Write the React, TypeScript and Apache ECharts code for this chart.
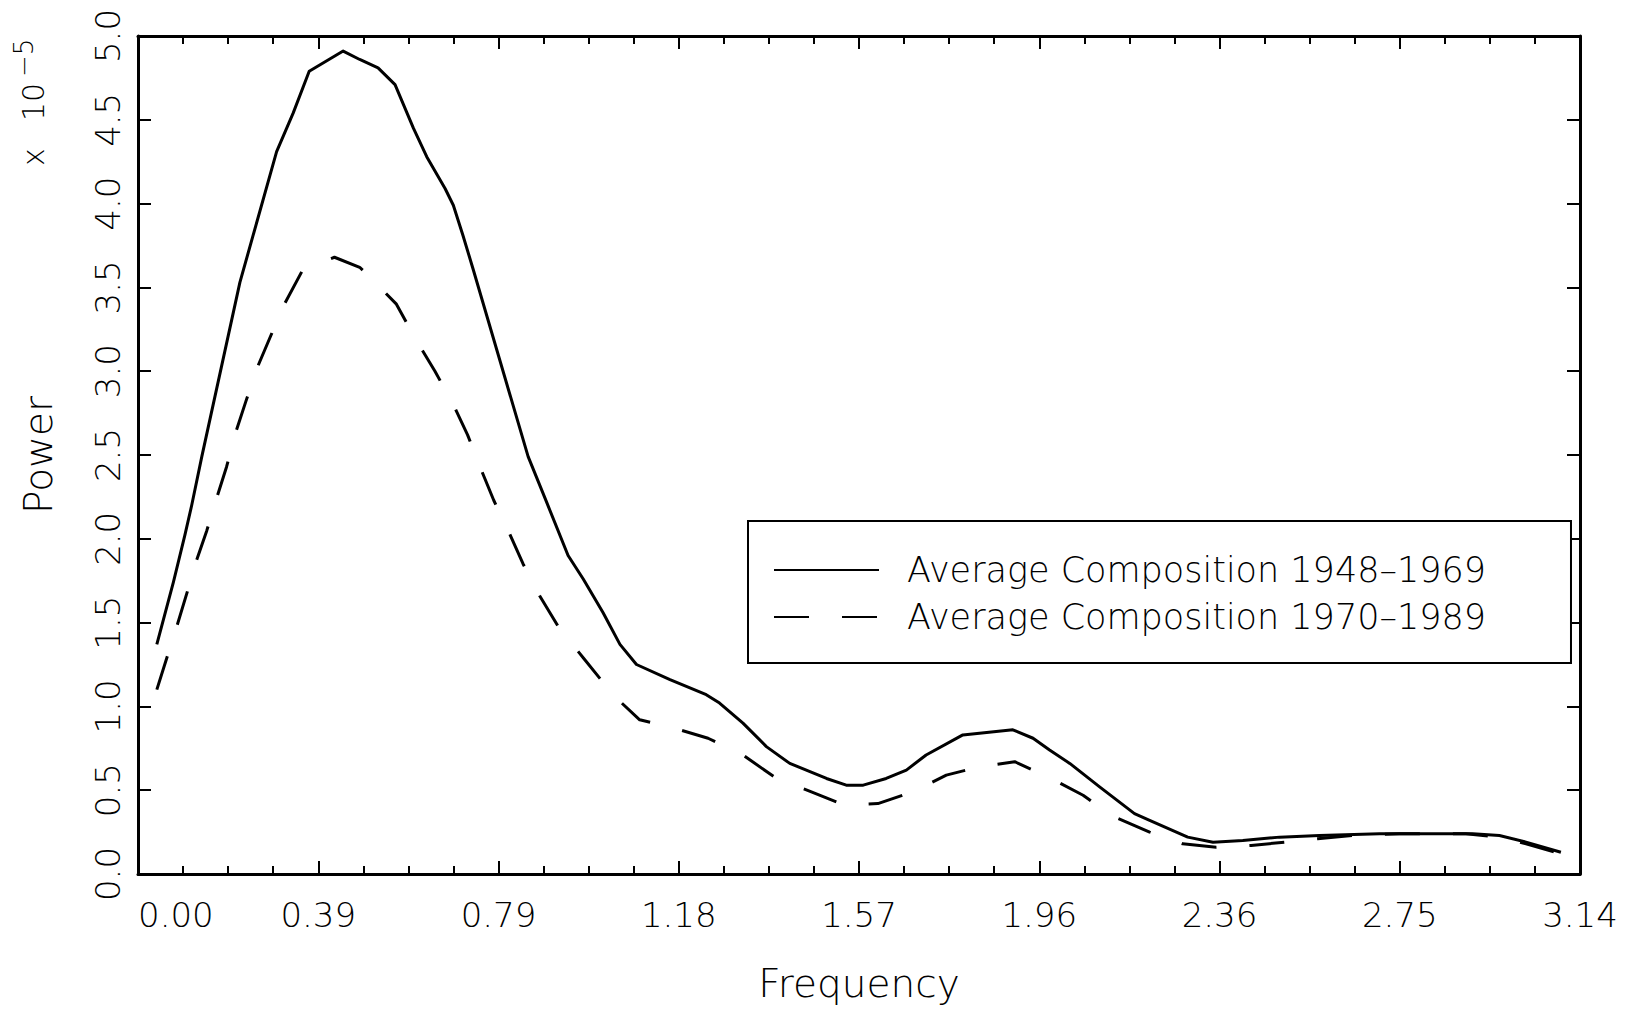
import React, { useEffect, useRef } from "react";
import * as echarts from "echarts";

// ---- data (power in units of 10^-5) ----
const FREQ_1948_1969 = [0.041, 0.077, 0.102, 0.117, 0.139, 0.222, 0.302, 0.338, 0.373, 0.447, 0.483, 0.523, 0.56, 0.6, 0.629, 0.669, 0.687, 0.708, 0.73, 0.85, 0.89, 0.937, 0.97, 1.013, 1.05, 1.086, 1.159, 1.238, 1.267, 1.318, 1.369, 1.42, 1.5, 1.543, 1.58, 1.63, 1.674, 1.717, 1.797, 1.906, 1.95, 1.986, 2.03, 2.095, 2.171, 2.204, 2.287, 2.342, 2.407, 2.487, 2.574, 2.705, 2.821, 2.908, 2.966, 3.024, 3.1];
const POWER_1948_1969 = [1.37, 1.74, 2.02, 2.2, 2.49, 3.53, 4.31, 4.54, 4.79, 4.91, 4.86, 4.81, 4.71, 4.45, 4.28, 4.09, 3.99, 3.81, 3.61, 2.49, 2.22, 1.9, 1.76, 1.56, 1.37, 1.25, 1.16, 1.07, 1.02, 0.9, 0.76, 0.66, 0.57, 0.53, 0.53, 0.57, 0.62, 0.71, 0.83, 0.86, 0.81, 0.74, 0.66, 0.52, 0.36, 0.32, 0.22, 0.19, 0.2, 0.22, 0.23, 0.24, 0.24, 0.24, 0.23, 0.19, 0.13];

const FREQ_1970_1989 = [0.041, 0.064, 0.086, 0.107, 0.126, 0.15, 0.171, 0.193, 0.211, 0.235, 0.258, 0.289, 0.319, 0.36, 0.428, 0.483, 0.502, 0.563, 0.603, 0.647, 0.687, 0.718, 0.748, 0.775, 0.808, 0.839, 0.875, 0.917, 0.973, 1.029, 1.05, 1.093, 1.169, 1.242, 1.318, 1.391, 1.467, 1.54, 1.612, 1.688, 1.761, 1.834, 1.91, 1.982, 2.059, 2.095, 2.128, 2.204, 2.276, 2.349, 2.425, 2.498, 2.57, 2.647, 2.748, 2.893, 2.966, 3.024, 3.1];
const POWER_1970_1989 = [1.1, 1.3, 1.49, 1.68, 1.86, 2.05, 2.24, 2.43, 2.62, 2.82, 3.01, 3.21, 3.4, 3.61, 3.68, 3.62, 3.57, 3.4, 3.2, 3.0, 2.8, 2.62, 2.41, 2.23, 2.04, 1.85, 1.66, 1.47, 1.28, 1.09, 1.03, 0.92, 0.87, 0.81, 0.71, 0.57, 0.49, 0.41, 0.42, 0.49, 0.59, 0.64, 0.67, 0.58, 0.47, 0.4, 0.34, 0.25, 0.18, 0.16, 0.17, 0.19, 0.21, 0.23, 0.24, 0.24, 0.22, 0.18, 0.12];

const SERIES_NAMES = ["Average Composition 1948–1969", "Average Composition 1970–1989"];

const X_MIN = 0;
const X_MAX = Math.PI;
const X_STEP = Math.PI / 8;
const Y_MIN = 0;
const Y_MAX = 5;
const Y_STEP = 0.5;

const X_TITLE = "Frequency";
const Y_TITLE = "Power";
const Y_SCALE_NOTE = "{a|x }{b|10}{s|−5}";

const FONT = "'DejaVu Sans', sans-serif";
const FW = 200;
const BLACK = "#000";

export default function App() {
  const ref = useRef<HTMLDivElement>(null);

  useEffect(() => {
    if (!ref.current) return;
    const chart = echarts.init(ref.current, null, { renderer: "svg" });

    const tickLine = { color: BLACK, width: 2 };
    const frameLine = { show: true, onZero: false, lineStyle: { color: BLACK, width: 3 } };

    const xBase = {
      type: "value" as const,
      min: X_MIN,
      max: X_MAX,
      interval: X_STEP,
      axisLine: frameLine,
      axisTick: { show: true, inside: true, length: 13, lineStyle: tickLine },
      minorTick: { show: true, splitNumber: 4, length: 8, lineStyle: tickLine },
      splitLine: { show: false },
      minorSplitLine: { show: false },
    };
    const yBase = {
      type: "value" as const,
      min: Y_MIN,
      max: Y_MAX,
      interval: Y_STEP,
      axisLine: frameLine,
      axisTick: { show: true, inside: true, length: 13, lineStyle: tickLine },
      splitLine: { show: false },
    };

    const mainNote = { fontSize: 30, fontFamily: FONT, fontWeight: FW, fill: BLACK };
    const supNote = { fontSize: 26, fontFamily: FONT, fontWeight: FW, fill: BLACK };

    chart.setOption({
      animation: false,
      backgroundColor: "#fff",
      textStyle: { fontFamily: FONT, color: BLACK },
      grid: { left: 138, right: 52, top: 36, bottom: 137, outerBoundsMode: "none", containLabel: false },
      xAxis: [
        {
          ...xBase,
          position: "bottom",
          axisLabel: {
            show: true,
            margin: 24,
            fontSize: 34,
            fontFamily: FONT,
            fontWeight: FW,
            color: BLACK,
            formatter: (v: number) => v.toFixed(2),
            alignMinLabel: "left",
          },
          name: X_TITLE,
          nameLocation: "middle",
          nameGap: 90,
          nameTextStyle: { fontSize: 39, fontFamily: FONT, fontWeight: FW, color: BLACK },
        },
        {
          ...xBase,
          position: "top",
          axisLabel: { show: false },
        },
      ],
      yAxis: [
        {
          ...yBase,
          position: "left",
          axisLabel: {
            show: true,
            rotate: 90,
            margin: 13,
            fontSize: 34,
            fontFamily: FONT,
            fontWeight: FW,
            color: BLACK,
            formatter: (v: number) => v.toFixed(1),
          },
          name: Y_TITLE,
          nameLocation: "middle",
          nameGap: 80,
          nameTextStyle: { fontSize: 39, fontFamily: FONT, fontWeight: FW, color: BLACK },
        },
        {
          ...yBase,
          position: "right",
          axisLabel: { show: false },
        },
      ],
      legend: {
        show: true,
        orient: "vertical",
        left: 748,
        top: 521,
        padding: [31, 85, 28, 25],
        itemWidth: 105,
        itemHeight: 36,
        itemGap: 11,
        borderColor: BLACK,
        borderWidth: 2,
        backgroundColor: "#fff",
        selectedMode: false,
        itemStyle: { opacity: 0, color: "rgba(0,0,0,0)", borderWidth: 0 },
        textStyle: {
          fontSize: 35,
          fontFamily: FONT,
          fontWeight: FW,
          color: BLACK,
          lineHeight: 36,
          padding: [0, 0, 0, 23],
        },
        data: SERIES_NAMES,
      },
      graphic: [
        {
          type: "text",
          x: 29.5,
          y: 166,
          rotation: Math.PI / 2,
          silent: true,
          style: {
            text: Y_SCALE_NOTE,
            align: "left",
            verticalAlign: "middle",
            fill: BLACK,
            fontFamily: FONT,
            fontWeight: FW,
            fontSize: 30,
            rich: {
              a: { ...mainNote, width: 45, height: 30, padding: [8, 0, 0, 0], verticalAlign: "bottom" },
              b: { ...mainNote, width: 44, height: 30, padding: [8, 0, 0, 0], verticalAlign: "bottom" },
              s: { ...supNote, height: 26, verticalAlign: "top" },
            },
          },
        },
      ],
      series: [
        {
          name: SERIES_NAMES[0],
          type: "line",
          xAxisIndex: 0,
          yAxisIndex: 0,
          data: FREQ_1948_1969.map((f, i) => [f, POWER_1948_1969[i]]),
          symbol: "none",
          smooth: false,
          itemStyle: { color: BLACK },
          lineStyle: { color: BLACK, width: 3, type: "solid", join: "round" },
          silent: true,
        },
        {
          name: SERIES_NAMES[1],
          type: "line",
          xAxisIndex: 0,
          yAxisIndex: 0,
          data: FREQ_1970_1989.map((f, i) => [f, POWER_1970_1989[i]]),
          symbol: "none",
          smooth: false,
          itemStyle: { color: BLACK },
          lineStyle: { color: BLACK, width: 3, type: [35, 33], join: "round" },
          silent: true,
        },
      ],
    });

    return () => chart.dispose();
  }, []);

  return (
    <div
      ref={ref}
      style={{ position: "fixed", left: 0, top: 0, width: 1632, height: 1011, background: "#fff" }}
    />
  );
}
